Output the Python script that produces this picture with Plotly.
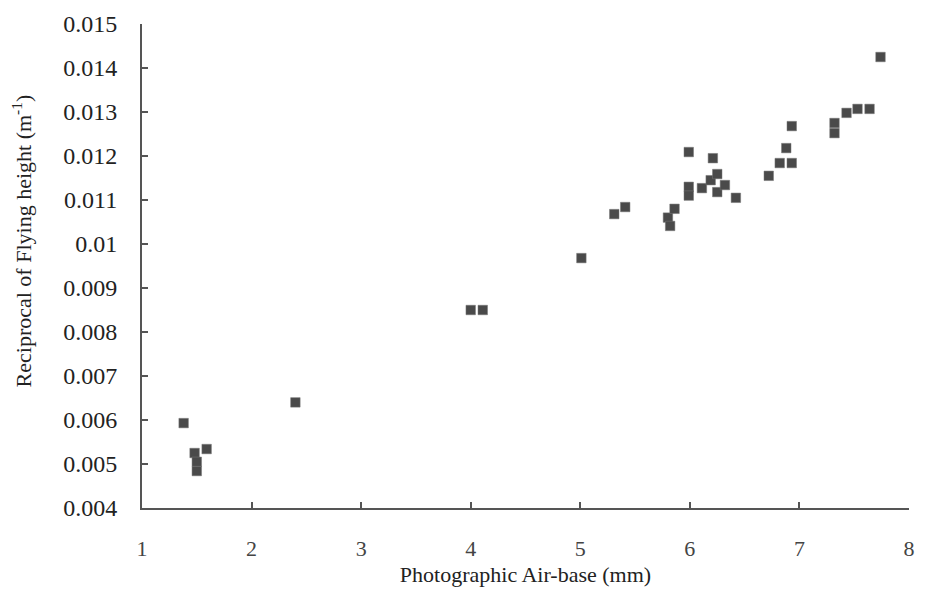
import plotly.graph_objects as go

# Data
air_base = [1.38, 1.48, 1.50, 1.50, 1.59, 2.40, 4.00, 4.11, 5.01, 5.31, 5.41,
            5.80, 5.82, 5.86, 5.99, 5.99, 5.99, 6.11, 6.19, 6.21, 6.25, 6.25,
            6.32, 6.42, 6.72, 6.82, 6.88, 6.93, 6.93, 7.32, 7.32, 7.43, 7.53,
            7.64, 7.74]
recip_height = [0.00593, 0.00525, 0.00505, 0.00484, 0.00534, 0.00640, 0.00850,
                0.00850, 0.00968, 0.01068, 0.01084, 0.01060, 0.01041, 0.01080,
                0.01209, 0.01130, 0.01110, 0.01127, 0.01145, 0.01195, 0.01159,
                0.01118, 0.01134, 0.01105, 0.01155, 0.01184, 0.01218, 0.01184,
                0.01268, 0.01275, 0.01252, 0.01298, 0.01307, 0.01307, 0.01425]

x_ticks = [1, 2, 3, 4, 5, 6, 7, 8]
x_ticktext = ["1", "2", "3", "4", "5", "6", "7", "8"]
y_ticks = [0.004, 0.005, 0.006, 0.007, 0.008, 0.009, 0.010, 0.011, 0.012,
           0.013, 0.014, 0.015]
y_ticktext = ["0.004", "0.005", "0.006", "0.007", "0.008", "0.009", "0.01",
              "0.011", "0.012", "0.013", "0.014", "0.015"]
x_title = "Photographic Air-base (mm)"
y_title = "Reciprocal of Flying height (m<sup>-1</sup>)"

FONT = "Liberation Serif"
TXT = "#222222"
AX = "#555555"

fig = go.Figure()
fig.add_trace(go.Scatter(
    x=air_base, y=recip_height, mode="markers",
    marker=dict(symbol="square", size=9.5, color="#4a4a4a",
                line=dict(width=0.5, color="#777777")),
    showlegend=False,
))

fig.update_layout(
    width=909, height=579,
    margin=dict(l=134, r=8, t=16, b=79),
    paper_bgcolor="white", plot_bgcolor="white",
    font=dict(family=FONT, color=TXT, size=22),
)
fig.update_xaxes(
    range=[1, 8], tickvals=x_ticks, ticktext=x_ticktext,
    showline=True, linecolor=AX, linewidth=2, mirror=False,
    ticks="inside", ticklen=6, tickwidth=1.5, tickcolor=AX,
    showgrid=False, zeroline=False, automargin=False,
    tickfont=dict(family=FONT, size=22, color="#444444"),
    ticklabelstandoff=20,
    title=dict(text=x_title,
               font=dict(family=FONT, size=22, color=TXT), standoff=8),
)
fig.update_yaxes(
    range=[0.004, 0.015], tickvals=y_ticks, ticktext=y_ticktext,
    showline=True, linecolor=AX, linewidth=2, mirror=False,
    ticks="inside", ticklen=6, tickwidth=1.5, tickcolor=AX,
    showgrid=False, zeroline=False, automargin=False,
    tickfont=dict(family=FONT, size=24, color=TXT),
    ticklabelstandoff=18,
)
fig.add_annotation(
    text=y_title, textangle=-90, showarrow=False,
    xref="paper", yref="paper", x=-0.157, y=0.552,
    xanchor="center", yanchor="middle",
    font=dict(family=FONT, size=22, color=TXT),
)

fig.write_html("out.html")
